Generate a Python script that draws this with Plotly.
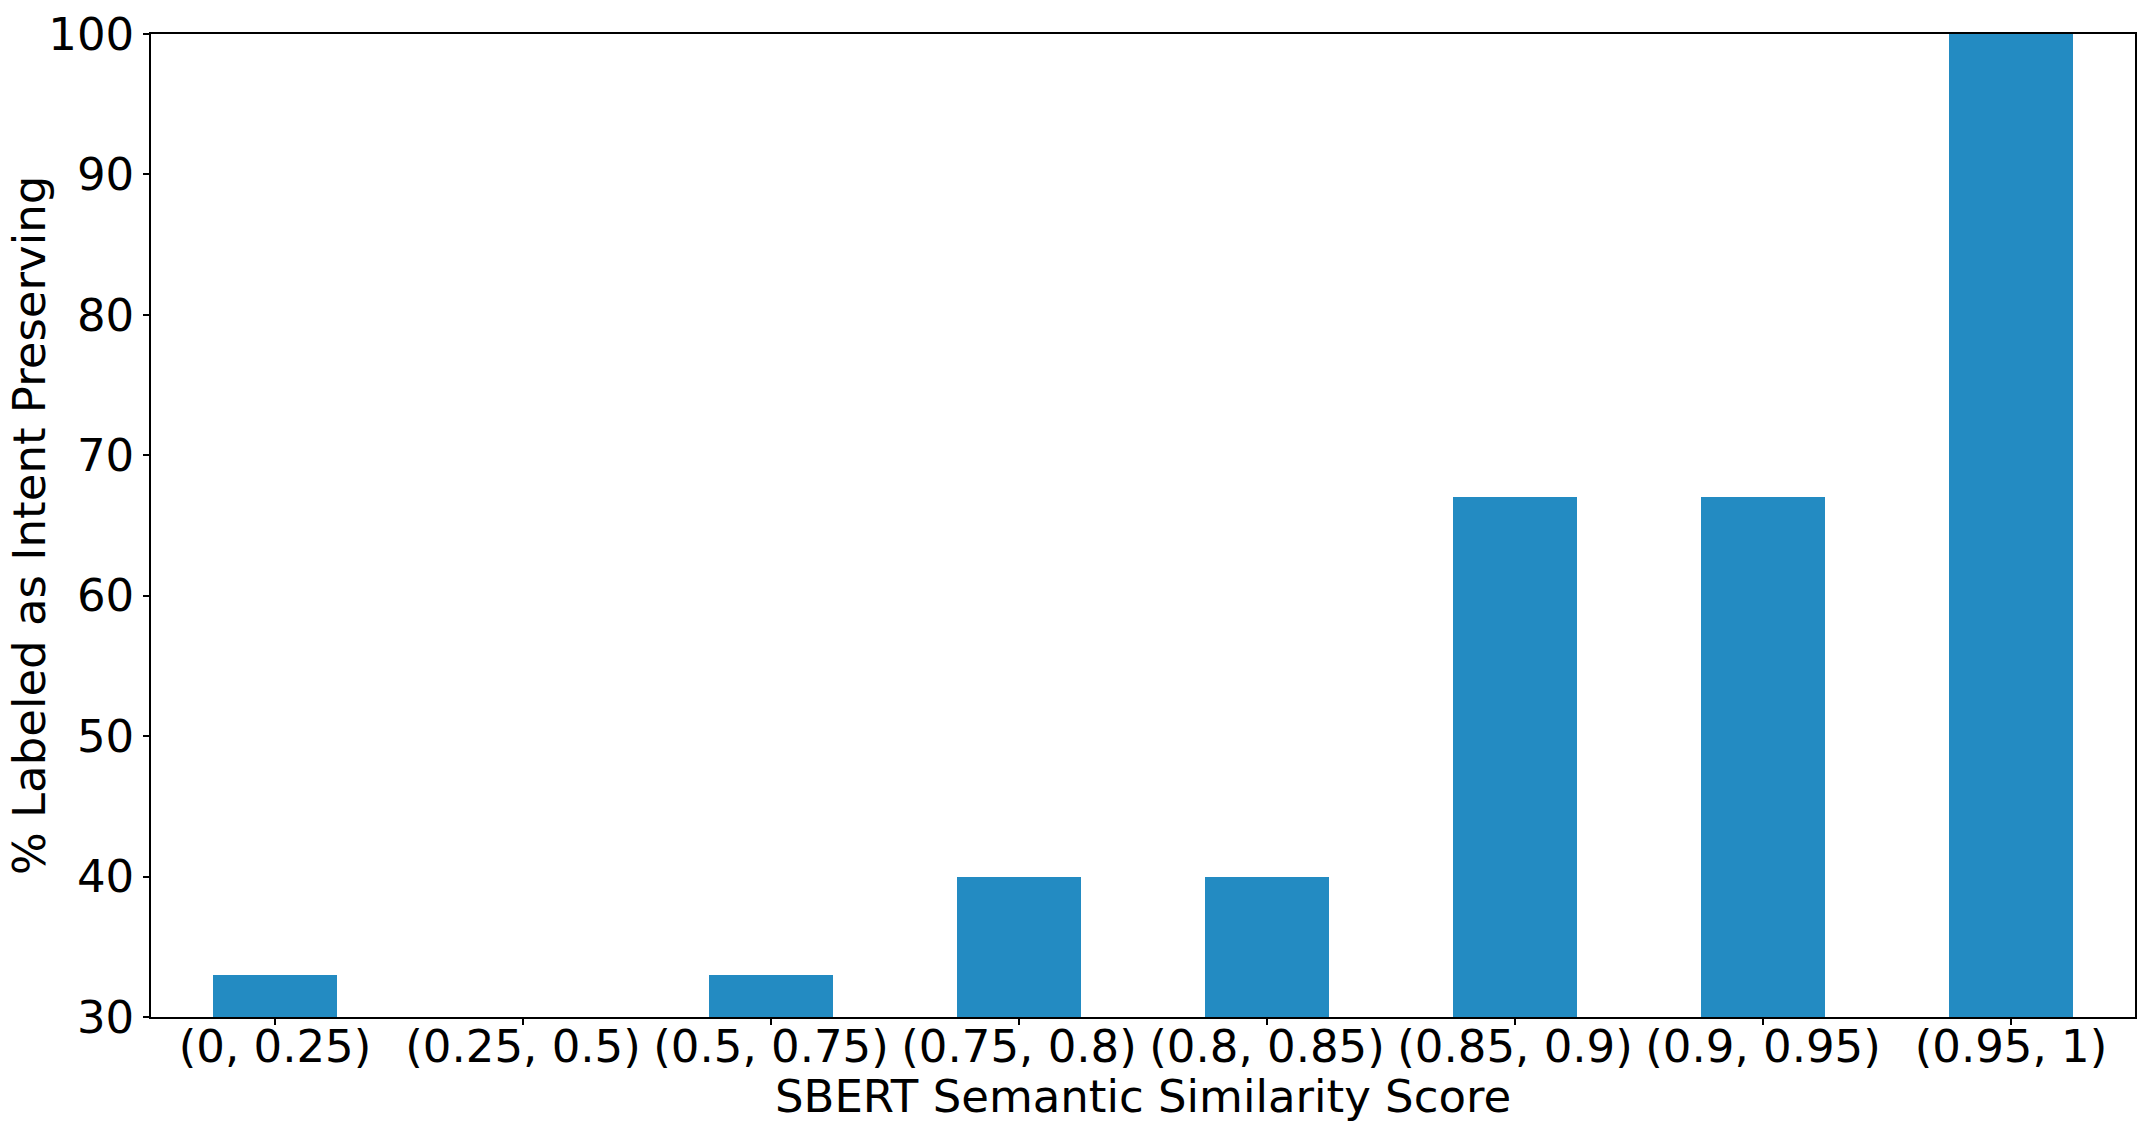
import plotly.graph_objects as go

categories = ["(0, 0.25)", "(0.25, 0.5)", "(0.5, 0.75)", "(0.75, 0.8)",
              "(0.8, 0.85)", "(0.85, 0.9)", "(0.9, 0.95)", "(0.95, 1)"]
values = [33, 0, 33, 40, 40, 67, 67, 100]
y_ticks = [30, 40, 50, 60, 70, 80, 90, 100]

FONT = "DejaVu Sans"
FS = 45
fig = go.Figure(go.Bar(x=categories, y=values, width=0.5,
                       marker=dict(color="#238BC2", line=dict(width=0))))

fig.update_layout(
    width=2152, height=1125,
    margin=dict(l=151, r=17, t=34, b=108),
    paper_bgcolor="white", plot_bgcolor="white",
    font=dict(family=FONT, size=FS, color="black"),
    showlegend=False,
    bargap=0,
)
fig.update_xaxes(
    range=[-0.5, 7.5], showline=True, mirror=True, linecolor="black", linewidth=1.5,
    ticks="outside", ticklen=6, tickcolor="black", tickwidth=1.5,
    tickfont=dict(size=FS, family=FONT), tickangle=0, ticklabelstandoff=-17,
    showgrid=False, zeroline=False, automargin=False,
)
fig.update_yaxes(
    range=[30, 100], tickvals=y_ticks, showline=True, mirror=True, linecolor="black", linewidth=1.5,
    ticks="outside", ticklen=6, tickcolor="black", tickwidth=1.5,
    tickfont=dict(size=FS, family=FONT),
    showgrid=False, zeroline=False, automargin=False,
)
fig.add_annotation(text="SBERT Semantic Similarity Score", xref="paper", yref="paper",
                   x=0.5, y=-0.081, xanchor="center", yanchor="middle",
                   showarrow=False, font=dict(size=FS, family=FONT))
fig.add_annotation(text="% Labeled as Intent Preserving", xref="paper", yref="paper",
                   x=-0.0612, y=0.5, xanchor="center", yanchor="middle", textangle=-90,
                   showarrow=False, font=dict(size=FS, family=FONT))
fig.write_html("out.html", config={"displayModeBar": False},
               post_script="document.body.style.margin='0';")
